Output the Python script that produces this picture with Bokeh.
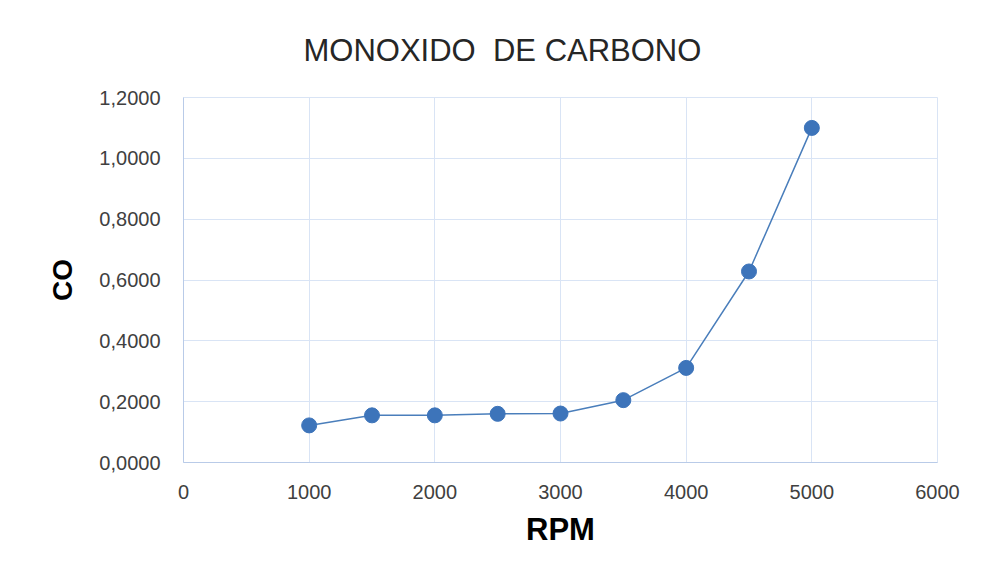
from bokeh.plotting import figure
from bokeh.models import Range1d, FixedTicker, CustomJSTickFormatter
from bokeh.embed import file_html
from bokeh.resources import INLINE

rpm = [1000, 1500, 2000, 2500, 3000, 3500, 4000, 4500, 5000]
co = [0.122, 0.155, 0.155, 0.160, 0.161, 0.205, 0.311, 0.628, 1.100]
x_ticks = [0, 1000, 2000, 3000, 4000, 5000, 6000]
y_ticks = [0.0, 0.2, 0.4, 0.6, 0.8, 1.0, 1.2]

p = figure(width=983, height=581, output_backend="svg", toolbar_location=None,
           x_range=Range1d(0, 6000), y_range=Range1d(0, 1.2),
           min_border_left=183, min_border_right=46, min_border_top=97, min_border_bottom=119)

p.title.text = "MONOXIDO\u00a0 DE CARBONO"
p.title.text_font = "Liberation Sans"
p.title.text_font_style = "normal"
p.title.text_font_size = "31px"
p.title.text_color = "#262626"
p.title.align = "left"
p.title.offset = 120
p.title.standoff = 60

grid_col = "#d9e4f5"
p.outline_line_color = grid_col
p.xgrid.grid_line_color = grid_col
p.ygrid.grid_line_color = grid_col
p.xgrid.ticker = FixedTicker(ticks=x_ticks)
p.ygrid.ticker = FixedTicker(ticks=y_ticks)

for ax in (p.xaxis[0], p.yaxis[0]):
    ax.axis_line_color = "#b9cbe8"
    ax.major_tick_line_color = None
    ax.minor_tick_line_color = None
    ax.major_label_text_font = "Liberation Sans"
    ax.major_label_text_font_size = "20px"
    ax.major_label_text_color = "#404040"
    ax.axis_label_text_font = "Liberation Sans"
    ax.axis_label_text_font_style = "bold"
    ax.axis_label_text_color = "#000000"

p.xaxis.ticker = FixedTicker(ticks=x_ticks)
p.yaxis.ticker = FixedTicker(ticks=y_ticks)
p.yaxis.formatter = CustomJSTickFormatter(code="return tick.toFixed(4).replace('.', ',');")
p.xaxis.major_label_standoff = 16
p.yaxis.major_label_standoff = 17
p.xaxis.axis_label = "RPM"
p.yaxis.axis_label = "CO"
p.xaxis.axis_label_text_font_size = "31px"
p.yaxis.axis_label_text_font_size = "28px"
p.xaxis.axis_label_standoff = 10
p.yaxis.axis_label_standoff = 18

p.line(rpm, co, line_color="#4a7ebb", line_width=1.5)
p.scatter(rpm, co, size=15, fill_color="#3d74ba", line_color="#3d74ba")

open("out.html", "w").write(file_html(p, INLINE))
